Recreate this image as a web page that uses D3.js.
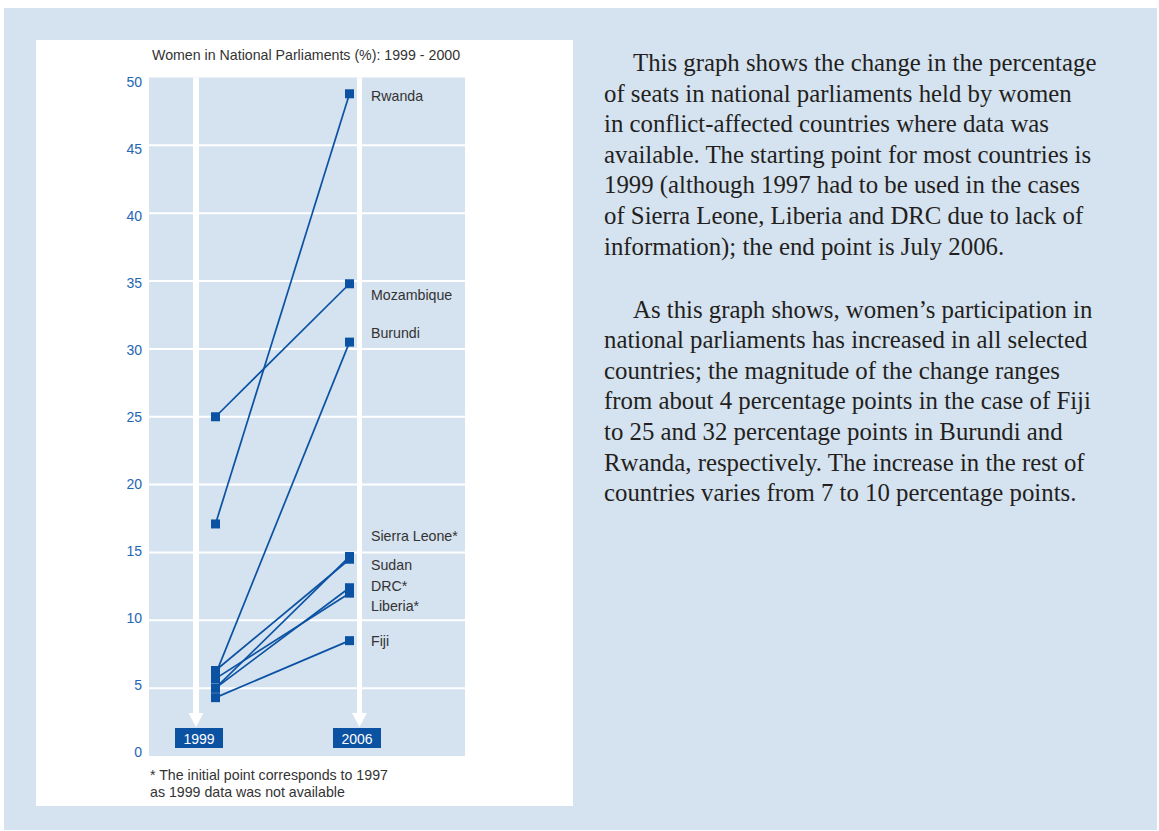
<!DOCTYPE html>
<html>
<head>
<meta charset="utf-8">
<script src="https://cdn.jsdelivr.net/npm/d3@7"></script>
<style>
  body { margin: 0; background: #ffffff; }
  svg { display: block; }
</style>
</head>
<body>
<div id="chart"></div>
<script>
// Datos
const paises = ['Rwanda', 'Mozambique', 'Burundi', 'Sierra Leone*', 'Sudan', 'DRC*', 'Liberia*', 'Fiji'];
const valores1999 = [17.1, 25.0, 6.0, 6.3, 5.0, 5.0, 5.7, 4.3];
const valores2006 = [48.8, 34.8, 30.5, 14.5, 14.7, 12.4, 12.0, 8.5];
const anios = ['1999', '2006'];
const ticksY = [0, 5, 10, 15, 20, 25, 30, 35, 40, 45, 50];

const parrafo1 = [
  'This graph shows the change in the percentage',
  'of seats in national parliaments held by women',
  'in conflict-affected countries where data was',
  'available. The starting point for most countries is',
  '1999 (although 1997 had to be used in the cases',
  'of Sierra Leone, Liberia and DRC due to lack of',
  'information); the end point is July 2006.'
];
const parrafo2 = [
  'As this graph shows, women\u2019s participation in',
  'national parliaments has increased in all selected',
  'countries; the magnitude of the change ranges',
  'from about 4 percentage points in the case of Fiji',
  'to 25 and 32 percentage points in Burundi and',
  'Rwanda, respectively. The increase in the rest of',
  'countries varies from 7 to 10 percentage points.'
];

// Desplazamiento vertical de las etiquetas (px), para que no se pisen
const desplazEtiqueta = [2, 11, -9, -23, 8, -2, 13, 0];

const AZUL = '#0b52a3';
const FONDO = '#d5e2ef';
const SANS = '"Liberation Sans", Arial, sans-serif';

const svg = d3.select('#chart')
  .append('svg')
  .attr('width', 1159)
  .attr('height', 831);

// Fondo de página
svg.append('rect')
  .attr('x', 4).attr('y', 8)
  .attr('width', 1153).attr('height', 822)
  .attr('fill', FONDO);

// Panel blanco
svg.append('rect')
  .attr('x', 36).attr('y', 40)
  .attr('width', 537).attr('height', 766)
  .attr('fill', '#ffffff');

// Escalas
const plot = { left: 149, right: 465, top: 77.5, bottom: 756 };

const y = d3.scaleLinear().domain([0, 50]).range([plot.bottom, plot.top]);
const yEtiquetas = d3.scaleLinear().domain([0, 50]).range([752, 82]);
const x = d3.scalePoint().domain(anios).range([215.5, 349.5]);
const xFlecha = d3.scalePoint().domain(anios).range([196, 359.5]);
const xCaja = d3.scalePoint().domain(anios).range([199, 357]);

// Área del gráfico
svg.append('rect')
  .attr('x', plot.left).attr('y', plot.top)
  .attr('width', plot.right - plot.left)
  .attr('height', plot.bottom - plot.top)
  .attr('fill', FONDO);

// Rejilla
svg.append('g')
  .selectAll('line')
  .data(ticksY.filter(d => d > 0 && d < 50))
  .join('line')
  .attr('x1', plot.left).attr('x2', plot.right)
  .attr('y1', d => y(d)).attr('y2', d => y(d))
  .attr('stroke', '#ffffff')
  .attr('stroke-width', 2);

// Eje Y (solo etiquetas)
const ejeY = svg.append('g')
  .attr('transform', 'translate(145,0)')
  .call(d3.axisLeft(yEtiquetas).tickValues(ticksY).tickSize(0).tickPadding(3));
ejeY.select('.domain').remove();
ejeY.selectAll('text')
  .attr('fill', '#2466b2')
  .style('font-family', SANS)
  .style('font-size', '14px');

// Flechas blancas
const flechas = svg.append('g')
  .selectAll('g')
  .data(anios)
  .join('g');

flechas.append('rect')
  .attr('x', (d, i) => xFlecha(d) - (i === 0 ? 3 : 2.5))
  .attr('y', plot.top)
  .attr('width', (d, i) => i === 0 ? 6 : 5)
  .attr('height', 714 - plot.top)
  .attr('fill', '#ffffff');

flechas.append('path')
  .attr('d', d => `M${xFlecha(d) - 7.5},713 L${xFlecha(d) + 7.5},713 L${xFlecha(d)},727 Z`)
  .attr('fill', '#ffffff');

// Cajas de años
flechas.append('rect')
  .attr('x', d => xCaja(d) - 24)
  .attr('y', 728)
  .attr('width', 48)
  .attr('height', 20)
  .attr('fill', AZUL);

flechas.append('text')
  .attr('x', d => xCaja(d))
  .attr('y', 738.5)
  .attr('text-anchor', 'middle')
  .attr('dominant-baseline', 'central')
  .attr('fill', '#ffffff')
  .style('font-family', SANS)
  .style('font-size', '14px')
  .text(d => d);

// Líneas y puntos
const datos = paises.map((p, i) => ({ pais: p, inicio: valores1999[i], fin: valores2006[i], dy: desplazEtiqueta[i] }));

svg.append('g')
  .selectAll('line')
  .data(datos)
  .join('line')
  .attr('x1', x('1999')).attr('y1', d => y(d.inicio))
  .attr('x2', x('2006')).attr('y2', d => y(d.fin))
  .attr('stroke', AZUL)
  .attr('stroke-width', 1.7);

const puntos = [];
datos.forEach(d => {
  puntos.push({ anio: '1999', v: d.inicio });
  puntos.push({ anio: '2006', v: d.fin });
});

svg.append('g')
  .selectAll('rect')
  .data(puntos)
  .join('rect')
  .attr('x', d => x(d.anio) - 4.5)
  .attr('y', d => y(d.v) - 4.5)
  .attr('width', 9)
  .attr('height', 9)
  .attr('fill', AZUL);

// Etiquetas de países
svg.append('g')
  .selectAll('text')
  .data(datos)
  .join('text')
  .attr('x', 371)
  .attr('y', d => y(d.fin) + d.dy)
  .attr('dominant-baseline', 'central')
  .attr('fill', '#333333')
  .style('font-family', SANS)
  .style('font-size', '14.2px')
  .text(d => d.pais);

// Título
svg.append('text')
  .attr('x', 152)
  .attr('y', 60)
  .attr('fill', '#333333')
  .style('font-family', SANS)
  .style('font-size', '14.2px')
  .text('Women in National Parliaments (%): 1999 - 2000');

// Nota al pie
svg.append('g')
  .selectAll('text')
  .data(['* The initial point corresponds to 1997', 'as 1999 data was not available'])
  .join('text')
  .attr('x', 150)
  .attr('y', (d, i) => 780 + i * 17)
  .attr('fill', '#333333')
  .style('font-family', SANS)
  .style('font-size', '14.2px')
  .text(d => d);

// Texto de la derecha
function parrafo(lineas, y0) {
  svg.append('g')
    .selectAll('text')
    .data(lineas)
    .join('text')
    .attr('x', (d, i) => i === 0 ? 633 : 604)
    .attr('y', (d, i) => y0 + i * 30.6)
    .attr('fill', '#231f20')
    .style('font-family', '"Liberation Serif", "Times New Roman", serif')
    .style('font-size', '24.8px')
    .text(d => d);
}
parrafo(parrafo1, 71);
parrafo(parrafo2, 317.5);
</script>
</body>
</html>
